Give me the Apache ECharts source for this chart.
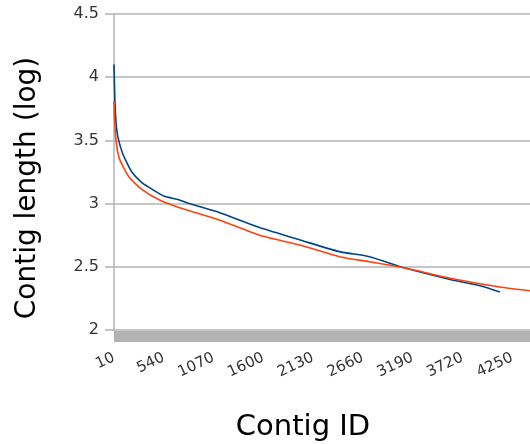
<!DOCTYPE html>
<html>
<head>
<meta charset="utf-8">
<script src="https://cdn.jsdelivr.net/npm/echarts@6/dist/echarts.min.js"></script>
<style>
  html, body { margin: 0; padding: 0; background: #fff; }
  #chart { width: 530px; height: 444px; }
</style>
</head>
<body>
<div id="chart"></div>
<script>
// x categories: contig IDs, one every 10
var contigIds = []
for (var id = 10; id <= 4440; id += 10) contigIds.push(String(id))
var xTickLabels = ['10', '540', '1070', '1600', '2130', '2660', '3190', '3720', '4250']

// [contig ID, log10 length]
var blueSeries = [
  ['10', 4.10], ['20', 3.80], ['30', 3.66], ['40', 3.58], ['60', 3.50],
  ['100', 3.40], ['130', 3.35], ['200', 3.25], ['300', 3.17], ['380', 3.13],
  ['540', 3.06], ['700', 3.03], ['810', 3.00], ['1130', 2.93], ['1560', 2.81],
  ['2000', 2.71], ['2410', 2.62], ['2730', 2.58], ['3110', 2.49], ['3590', 2.40],
  ['3910', 2.35], ['4120', 2.30]
]
var redSeries = [
  ['10', 3.81], ['20', 3.61], ['40', 3.45], ['70', 3.35], ['170', 3.21],
  ['310', 3.11], ['490', 3.03], ['700', 2.97], ['1130', 2.87], ['1560', 2.75],
  ['2000', 2.67], ['2410', 2.58], ['2730', 2.54], ['3110', 2.49], ['3590', 2.41],
  ['4120', 2.34], ['4440', 2.31]
]

var chart = echarts.init(document.getElementById('chart'))
chart.setOption({
  animation: false,
  textStyle: { fontFamily: 'DejaVu Sans' },
  grid: { left: 114, right: 0, top: 14, bottom: 114, containLabel: false, outerBoundsMode: 'none' },
  xAxis: {
    type: 'category',
    data: contigIds,
    boundaryGap: false,
    offset: 6,
    name: 'Contig ID',
    nameLocation: 'middle',
    nameGap: 77,
    nameTextStyle: { fontSize: 29, color: '#000', fontFamily: 'DejaVu Sans', padding: [0, 38, 0, 0] },
    axisLine: { lineStyle: { color: '#b3b3b3', width: 11, cap: 'butt' } },
    axisTick: { show: false },
    splitLine: { show: false },
    axisLabel: {
      interval: function (i, v) { return xTickLabels.indexOf(v) >= 0 },
      rotate: 25,
      margin: 21,
      fontSize: 15,
      color: '#333',
      fontFamily: 'DejaVu Sans'
    }
  },
  yAxis: {
    type: 'value',
    min: 2,
    max: 4.5,
    interval: 0.5,
    name: 'Contig length (log)',
    nameLocation: 'middle',
    nameGap: 72,
    nameTextStyle: { fontSize: 28, color: '#000', fontFamily: 'DejaVu Sans', padding: [0, 32, 0, 0] },
    axisLine: { show: true, lineStyle: { color: '#b3b3b3', width: 1.5 } },
    axisTick: { show: true, length: 9, lineStyle: { color: '#b3b3b3', width: 1.5 } },
    splitLine: { show: true, lineStyle: { color: '#b3b3b3', width: 1.5 } },
    axisLabel: { fontSize: 16, color: '#333', margin: 15, fontFamily: 'DejaVu Sans' }
  },
  series: [
    {
      type: 'line',
      data: blueSeries,
      showSymbol: false,
      smooth: 0.2,
      lineStyle: { color: '#004586', width: 1.6 },
      itemStyle: { color: '#004586' }
    },
    {
      type: 'line',
      data: redSeries,
      showSymbol: false,
      smooth: 0.2,
      lineStyle: { color: '#ff420e', width: 1.6 },
      itemStyle: { color: '#ff420e' }
    }
  ]
})
</script>
</body>
</html>
